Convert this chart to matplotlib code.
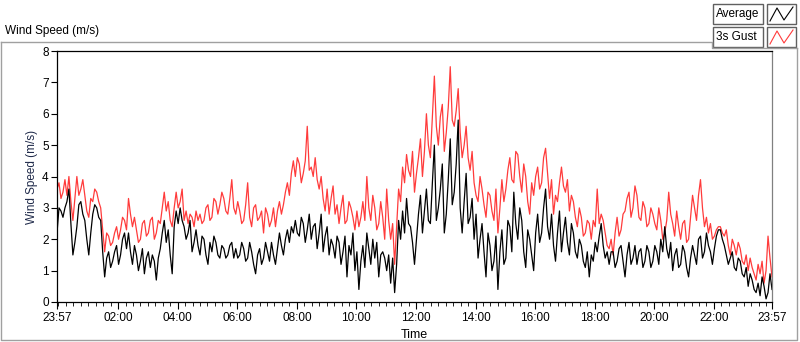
"""
Wind speed chart (LabVIEW style): average and 3s gust over one day
"""

import numpy as np
import matplotlib
matplotlib.use("Agg")
import matplotlib.pyplot as plt
from matplotlib.patches import Rectangle
from matplotlib.lines import Line2D

plt.rcParams['font.family'] = ['Liberation Sans', 'DejaVu Sans']

# minutes since 23:57, one reading every 4 min (one row = 2 hours)
step_min = 4
average = [
    2.2, 3.0, 2.9, 2.7, 3.0, 3.2, 3.6, 2.5, 1.5, 1.9, 2.4, 3.1, 3.2, 2.8, 2.6, 2.0, 1.5, 2.2, 2.8, 3.1, 3.0, 2.7, 2.6, 1.6, 0.8, 1.4, 1.6, 1.1, 1.3, 1.6,
    1.8, 1.2, 1.5, 2.0, 2.2, 1.7, 2.2, 1.6, 1.2, 1.8, 1.5, 1.0, 1.3, 1.7, 0.9, 1.4, 1.6, 1.1, 1.5, 1.3, 0.7, 1.4, 1.7, 2.2, 2.6, 1.9, 2.3, 1.5, 0.9, 2.4,
    2.9, 2.5, 3.0, 2.6, 2.4, 2.0, 2.2, 2.6, 1.6, 1.9, 2.3, 1.8, 1.5, 2.1, 2.0, 1.5, 1.2, 1.9, 1.6, 2.1, 1.9, 1.5, 1.4, 1.8, 1.7, 1.4, 1.5, 1.8, 1.9, 1.4,
    1.7, 1.4, 1.5, 1.9, 1.7, 1.3, 1.4, 1.9, 1.6, 1.2, 0.9, 1.5, 1.7, 1.2, 1.4, 1.9, 1.6, 1.3, 1.9, 1.5, 1.2, 1.7, 2.2, 1.8, 1.5, 2.0, 2.3, 1.9, 2.4, 2.2,
    2.6, 2.2, 2.1, 2.7, 2.5, 1.9, 2.3, 2.8, 2.0, 2.4, 2.5, 1.7, 2.2, 2.8, 1.6, 2.1, 2.4, 1.5, 2.0, 1.8, 1.4, 2.1, 1.9, 1.2, 1.6, 2.1, 0.8, 1.8, 1.5, 2.2,
    1.0, 1.6, 0.4, 1.3, 1.8, 1.1, 2.2, 1.7, 1.2, 2.0, 1.4, 1.9, 0.8, 1.5, 1.6, 1.4, 1.0, 1.5, 0.6, 1.4, 0.3, 1.2, 2.6, 2.0, 2.9, 2.2, 3.3, 2.5, 2.4, 1.9,
    1.2, 2.0, 2.8, 3.4, 2.2, 2.9, 3.6, 2.6, 2.5, 3.8, 5.0, 2.6, 3.0, 3.6, 4.4, 2.2, 2.8, 3.9, 5.2, 3.1, 3.5, 4.4, 5.8, 3.0, 2.2, 3.2, 4.1, 2.5, 2.7, 3.3,
    2.0, 2.8, 1.4, 2.0, 2.5, 1.6, 0.8, 2.2, 1.8, 1.0, 1.3, 2.1, 0.4, 1.6, 2.3, 1.2, 1.4, 2.6, 2.4, 1.6, 3.5, 2.5, 2.0, 3.0, 2.6, 1.6, 1.1, 2.3, 2.0, 1.5,
    1.0, 2.2, 2.8, 1.9, 2.2, 3.0, 3.6, 2.4, 2.0, 2.8, 1.8, 1.3, 2.2, 2.9, 1.6, 2.2, 2.7, 1.9, 1.5, 2.5, 2.2, 1.6, 1.4, 2.0, 1.8, 1.3, 1.1, 1.6, 0.8, 1.5,
    1.3, 1.9, 1.6, 2.1, 2.5, 1.8, 1.4, 1.6, 1.2, 1.6, 1.6, 1.1, 1.3, 1.7, 1.8, 1.3, 0.8, 1.5, 1.9, 1.2, 1.4, 1.8, 1.2, 1.6, 1.7, 1.1, 1.3, 1.8, 1.6, 1.1,
    1.3, 1.8, 1.6, 1.2, 2.0, 1.6, 2.4, 1.7, 1.4, 1.9, 1.0, 1.5, 1.7, 1.1, 1.2, 1.8, 1.6, 1.1, 0.8, 1.4, 1.8, 1.5, 1.2, 2.0, 2.1, 1.4, 1.6, 2.2, 1.8, 1.6,
    1.2, 1.7, 2.1, 2.3, 2.3, 2.0, 1.8, 1.5, 1.2, 1.4, 1.6, 1.1, 1.0, 1.4, 1.3, 0.9, 0.8, 1.1, 0.5, 0.9, 0.7, 0.4, 0.3, 0.6, 0.2, 0.8, 0.5, 0.1, 0.3, 0.9,
    0.4,
]
gust = [
    3.6, 3.8, 3.3, 3.5, 3.9, 3.4, 4.0, 3.2, 2.6, 3.3, 4.0, 3.4, 3.6, 3.9, 3.4, 2.9, 2.7, 3.3, 3.2, 3.6, 3.5, 3.2, 3.0, 2.3, 1.6, 2.2, 2.1, 1.8, 1.9, 2.2,
    2.4, 2.0, 2.3, 2.7, 2.6, 2.3, 3.3, 2.8, 2.4, 2.7, 2.3, 1.9, 2.0, 2.5, 2.6, 2.1, 2.2, 2.6, 2.7, 2.0, 2.2, 2.6, 2.5, 3.0, 3.5, 2.9, 3.2, 2.6, 2.4, 3.0,
    3.5, 3.0, 3.2, 3.6, 2.6, 2.9, 2.5, 2.8, 2.7, 2.4, 2.9, 2.6, 2.8, 2.5, 2.6, 3.0, 3.1, 2.6, 2.7, 3.3, 3.2, 2.8, 3.1, 3.5, 3.3, 2.9, 2.8, 3.3, 3.9, 3.0,
    2.8, 3.2, 2.9, 2.5, 2.6, 3.1, 3.8, 2.7, 2.4, 3.0, 3.1, 2.6, 2.7, 2.9, 2.2, 3.0, 2.8, 2.4, 2.6, 3.0, 2.4, 2.9, 3.2, 2.8, 3.1, 3.5, 3.8, 3.4, 4.1, 4.5,
    4.0, 4.6, 4.4, 3.8, 4.1, 4.5, 5.6, 4.2, 4.3, 4.0, 4.6, 3.9, 3.6, 4.0, 3.3, 2.9, 3.6, 2.8, 3.3, 3.7, 2.8, 3.1, 2.5, 3.0, 3.4, 2.5, 2.6, 3.2, 3.0, 2.7,
    2.3, 2.9, 2.4, 2.7, 3.2, 2.6, 4.0, 3.0, 2.6, 3.4, 3.0, 2.3, 2.5, 3.2, 2.7, 2.0, 3.6, 2.6, 2.0, 2.5, 1.2, 2.4, 3.6, 3.2, 4.3, 3.8, 4.7, 4.2, 4.0, 4.8,
    3.5, 4.1, 4.6, 5.2, 4.0, 4.8, 6.0, 5.0, 4.6, 5.9, 7.2, 5.6, 5.0, 5.9, 6.3, 4.8, 5.4, 6.2, 7.5, 5.8, 5.6, 6.1, 6.8, 5.4, 4.6, 5.0, 5.6, 4.6, 4.2, 4.8,
    3.8, 3.4, 3.2, 4.0, 3.6, 3.1, 2.7, 3.5, 3.4, 2.9, 2.6, 3.6, 2.2, 3.0, 3.9, 3.2, 3.6, 4.2, 4.6, 3.9, 3.8, 4.8, 4.7, 4.0, 3.5, 4.4, 4.0, 3.2, 2.8, 3.8,
    3.4, 4.0, 4.3, 3.6, 3.8, 4.6, 4.9, 4.1, 3.3, 3.9, 2.8, 3.4, 3.2, 3.8, 4.3, 3.7, 3.5, 3.9, 2.9, 3.4, 3.2, 2.7, 2.4, 3.0, 2.7, 2.1, 2.2, 2.6, 2.5, 2.0,
    2.6, 2.4, 3.6, 2.5, 2.8, 2.6, 2.2, 1.8, 1.7, 2.0, 1.5, 2.2, 2.7, 2.1, 2.3, 2.8, 2.9, 3.3, 3.5, 2.7, 3.0, 3.7, 3.4, 2.7, 2.6, 3.2, 3.0, 2.4, 2.5, 3.0,
    2.8, 2.5, 2.3, 3.0, 2.6, 2.0, 2.2, 2.6, 3.5, 2.8, 2.5, 2.1, 2.9, 2.4, 2.0, 2.5, 2.6, 1.9, 2.0, 2.7, 3.4, 3.0, 2.6, 3.4, 3.9, 3.0, 2.4, 2.7, 2.2, 2.5,
    2.0, 2.1, 2.3, 2.4, 2.4, 2.2, 2.1, 2.3, 1.8, 1.5, 2.0, 1.8, 1.5, 1.9, 1.7, 1.3, 1.2, 1.5, 1.0, 1.4, 1.1, 0.9, 0.7, 1.2, 0.9, 1.3, 0.6, 1.0, 2.1, 1.4,
    0.8,
]
tick_labels = ["23:57", "02:00", "04:00", "06:00", "08:00", "10:00", "12:00",
               "14:00", "16:00", "18:00", "20:00", "22:00", "23:57"]

t = np.arange(len(average)) * step_min
span = 24 * 60

# ticks : 2h majors from 02:00 (=123 min after 23:57), minors every 15 min
major = [0] + [123 + 120 * k for k in range(11)] + [span]
minor = [3 + 15 * k for k in range(96)]

W, H = 800, 342
fig = plt.figure(figsize=(W / 100, H / 100), dpi=100)

# overlay in pixel coords for the LabVIEW frame and legend
bg = fig.add_axes([0, 0, 1, 1])
bg.set_xlim(0, W)
bg.set_ylim(H, 0)
bg.axis('off')
frame_col = '#a0a0a0'
bg.add_line(Line2D([1, 1, 797, 797], [42, 340, 340, 48], color=frame_col, lw=1))
bg.add_line(Line2D([1, 712, 712, 797], [42, 42, 48, 48], color=frame_col, lw=1))
bg.text(5, 31, "Wind Speed (m/s)", fontsize=8.5, va='center', ha='left')

# legend boxes
for k, (name, col) in enumerate([("Average", 'black'), ("3s Gust", '#ff3b3b')]):
    y0 = 4 + k * 23
    bg.add_patch(Rectangle((713, y0), 50, 20, fill=False, ec='#606060', lw=1))
    bg.text(716, y0 + 10, name, fontsize=8.5, va='center', ha='left')
    bg.add_patch(Rectangle((767, y0), 29, 20, fill=False, ec='#606060', lw=1))
    bg.add_line(Line2D([770, 777, 784, 793], [y0 + 17, y0 + 4, y0 + 16, y0 + 3],
                       color=col, lw=0.8))

ax = fig.add_axes([57 / W, 1 - 302 / H, (772 - 57) / W, (302 - 51) / H])
ax.plot(t, gust, color='#ff3b3b', lw=0.9)
ax.plot(t, average, color='black', lw=0.9)

ax.set_xlim(0, span)
ax.set_ylim(0, 8)
ax.set_xticks(major)
ax.set_xticklabels(tick_labels)
ax.set_xticks(minor, minor=True)
ax.set_yticks(range(9))
ax.tick_params(axis='both', labelsize=8.5, direction='out', width=0.8)
ax.tick_params(axis='x', which='major', length=5, pad=2)
ax.tick_params(axis='x', which='minor', length=3)
ax.tick_params(axis='y', length=4, pad=2)
for s in ax.spines.values():
    s.set_linewidth(0.9)
ax.spines['right'].set_color('#808080')
ax.set_xlabel("Time", fontsize=9, labelpad=4)
ax.set_ylabel("Wind Speed (m/s)", fontsize=8.5, labelpad=3, color='#1f2a4a')

fig.savefig("out.png", dpi=100)
